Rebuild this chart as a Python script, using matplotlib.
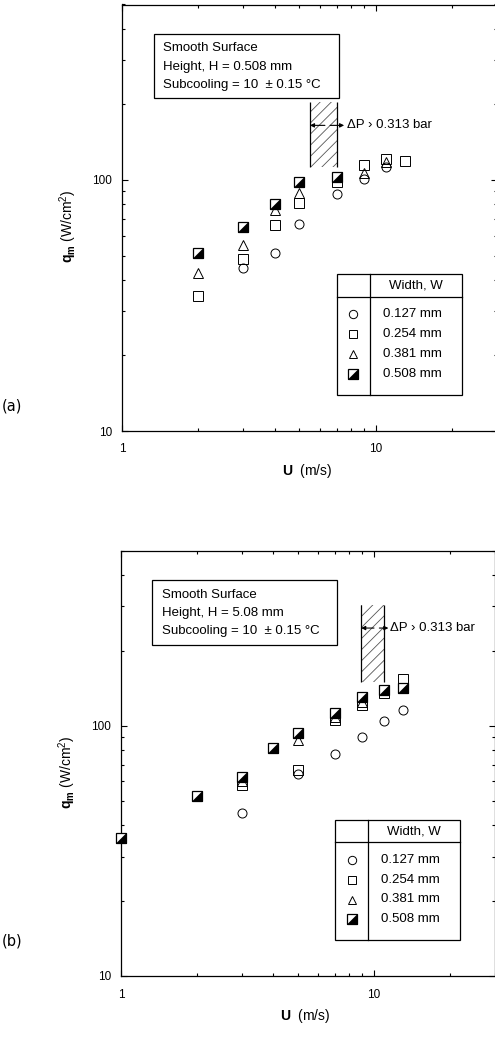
import matplotlib
matplotlib.use("Agg")
import matplotlib.pyplot as plt
from matplotlib.path import Path
from matplotlib.patches import Rectangle
from matplotlib.ticker import LogLocator, NullFormatter, FixedLocator, FixedFormatter

plt.rcParams['font.family'] = ['Liberation Sans', 'DejaVu Sans']
plt.rcParams['mathtext.fontset'] = 'custom'
plt.rcParams['mathtext.rm'] = 'Liberation Sans'
plt.rcParams['mathtext.bf'] = 'Liberation Sans:bold'
plt.rcParams['mathtext.it'] = 'Liberation Sans:italic'
plt.rcParams['hatch.linewidth'] = 0.6

# ---------------- data ----------------
widths = ["0.127 mm", "0.254 mm", "0.381 mm", "0.508 mm"]

# panel (a): H = 0.508 mm
a_circle_U = [3, 4, 5, 7, 9, 11]
a_circle_q = [44.7, 51, 66.6, 87.7, 100.6, 113]
a_square_U = [2, 3, 4, 5, 7, 9, 11, 13]
a_square_q = [34.6, 48.3, 66.2, 81.2, 98.5, 114.7, 121, 119.4]
a_tri_U = [2, 3, 4, 5, 9, 11]
a_tri_q = [42.7, 55, 75.9, 88.5, 106.3, 118]
a_half_U = [2, 3, 4, 5, 7]
a_half_q = [51, 64.8, 80.2, 98.5, 102.5]

# panel (b): H = 5.08 mm
b_circle_U = [3, 5, 7, 9, 11, 13]
b_circle_q = [45, 64, 77, 90.6, 104.7, 115.8]
b_square_U = [1, 3, 5, 7, 9, 11, 13]
b_square_q = [35.5, 58, 66.7, 105.7, 121, 135, 154]
b_tri_U = [3, 5, 7, 9]
b_tri_q = [60, 88, 108, 125]
b_half_U = [1, 2, 3, 4, 5, 7, 9, 11, 13]
b_half_q = [35.5, 52.5, 62.7, 81.4, 94, 112.4, 131, 139, 141.6]

titles = ["Height, H = 0.508 mm", "Height, H = 5.08 mm"]
panel_tags = ["(a)", "(b)"]
# choking region (U range, q range, arrow level)
hatch_U = [(5.5, 7.0), (8.9, 11.0)]
hatch_q = [(113, 205), (150, 305)]
arrow_q = [165, 246]
dp_text = "\u0394P \u203a 0.313 bar"

MS = 6.5
tri_path = Path([(-1, -1), (1, -1), (1, 1), (-1, -1)],
                [Path.MOVETO, Path.LINETO, Path.LINETO, Path.CLOSEPOLY])


def half_marker(ax, x, y, transform=None, z=5):
    kw = {} if transform is None else {'transform': transform}
    ax.plot(x, y, ls='none', marker='s', ms=MS, mfc='white', mec='black',
            mew=0.9, zorder=z, clip_on=False, **kw)
    ax.plot(x, y, ls='none', marker=tri_path, ms=MS, mfc='black', mec='black',
            mew=0.5, zorder=z + 0.1, clip_on=False, **kw)


def draw_panel(ax, data, title, hU, hq, aq, arrow_xs, text_x):
    (cU, cq), (sU, sq), (tU, tq), (hU_, hq_) = data
    ax.set_xscale('log')
    ax.set_yscale('log')
    ax.set_xlim(1, 30)
    ax.set_ylim(10, 500)

    ax.plot(cU, cq, ls='none', marker='o', ms=MS, mfc='none', mec='black', mew=0.7, zorder=3, clip_on=False)
    ax.plot(sU, sq, ls='none', marker='s', ms=MS, mfc='none', mec='black', mew=0.7, zorder=3.5, clip_on=False)
    ax.plot(tU, tq, ls='none', marker='^', ms=MS + 0.5, mfc='none', mec='black', mew=0.7, zorder=4)
    half_marker(ax, hU_, hq_)

    # hatched region
    r = Rectangle((hU[0], hq[0]), hU[1] - hU[0], hq[1] - hq[0], facecolor='none',
                  edgecolor='#555555', hatch='///', lw=0, zorder=2)
    ax.add_patch(r)
    ax.vlines(hU, hq[0], hq[1], color='black', lw=0.9, zorder=2.5)
    # arrows
    ax.annotate('', xy=(hU[0], aq), xytext=(arrow_xs[0], aq),
                arrowprops=dict(arrowstyle='-|>', lw=0.8, color='black',
                                mutation_scale=6, shrinkA=0, shrinkB=0))
    ax.annotate('', xy=(arrow_xs[2], aq), xytext=(arrow_xs[1], aq),
                arrowprops=dict(arrowstyle='-|>', lw=0.8, color='black',
                                mutation_scale=6, shrinkA=0, shrinkB=0))
    ax.text(text_x, aq, dp_text, fontsize=9.5, va='center', ha='left')

    # info box
    ax.add_patch(Rectangle((0.084, 0.78), 0.494, 0.151, transform=ax.transAxes,
                           facecolor='white', edgecolor='black', lw=0.9, zorder=6))
    lines = ["Smooth Surface", title, "Subcooling = 10  \u00b1 0.15 \u00b0C"]
    for i, s in enumerate(lines):
        ax.text(0.11, 0.897 - i * 0.043, s, transform=ax.transAxes, fontsize=9.5,
                va='center', ha='left', zorder=7)

    # legend table
    x0, x1, xd = 0.573, 0.906, 0.661
    y0, y1, yh = 0.084, 0.367, 0.315
    ax.add_patch(Rectangle((x0, y0), x1 - x0, y1 - y0, transform=ax.transAxes,
                           facecolor='white', edgecolor='black', lw=0.9, zorder=6))
    ax.plot([xd, xd], [y0, y1], transform=ax.transAxes, color='black', lw=0.9, zorder=7)
    ax.plot([x0, x1], [yh, yh], transform=ax.transAxes, color='black', lw=0.9, zorder=7)
    ax.text((xd + x1) / 2, 0.341, "Width, W", transform=ax.transAxes, fontsize=9.5,
            ha='center', va='center', zorder=7)
    rows = [0.274, 0.227, 0.18, 0.133]
    mx = (x0 + xd) / 2
    ax.plot([mx], [rows[0]], transform=ax.transAxes, ls='none', marker='o', ms=MS - 0.5,
            mfc='none', mec='black', mew=0.7, zorder=8)
    ax.plot([mx], [rows[1]], transform=ax.transAxes, ls='none', marker='s', ms=MS - 1,
            mfc='none', mec='black', mew=0.7, zorder=8)
    ax.plot([mx], [rows[2]], transform=ax.transAxes, ls='none', marker='^', ms=MS - 0.5,
            mfc='none', mec='black', mew=0.7, zorder=8)
    half_marker(ax, [mx], [rows[3]], transform=ax.transAxes, z=8)
    for yv, lab in zip(rows, widths):
        ax.text(0.695, yv, lab, transform=ax.transAxes, fontsize=9.5, ha='left',
                va='center', zorder=8)

    # ticks
    ax.tick_params(which='both', direction='in', top=True, right=True, labelsize=8.5,
                   width=0.8)
    ax.tick_params(which='major', length=4)
    ax.tick_params(which='minor', length=2)
    ax.tick_params(axis='x', pad=9)
    ax.tick_params(axis='y', pad=7)
    ax.xaxis.set_major_locator(FixedLocator([1, 10]))
    ax.xaxis.set_major_formatter(FixedFormatter(["1", "10"]))
    ax.yaxis.set_major_locator(FixedLocator([10, 100]))
    ax.yaxis.set_major_formatter(FixedFormatter(["10", "100"]))
    ax.xaxis.set_minor_locator(LogLocator(base=10, subs=range(2, 10)))
    ax.yaxis.set_minor_locator(LogLocator(base=10, subs=range(2, 10)))
    ax.xaxis.set_minor_formatter(NullFormatter())
    ax.yaxis.set_minor_formatter(NullFormatter())
    for sp in ax.spines.values():
        sp.set_linewidth(0.9)

    ax.set_xlabel(r"$\mathbf{U}$  (m/s)", fontsize=10)
    ax.xaxis.set_label_coords(0.493, -0.072)
    ax.set_ylabel(r"$\mathbf{q_m}$ (W/cm$^2$)", fontsize=10)
    ax.yaxis.set_label_coords(-0.115, 0.48)


fig = plt.figure(figsize=(4.95, 10.4), dpi=100)
ax_a = fig.add_axes([122 / 495, (1040 - 431) / 1040, 375 / 495, 426.5 / 1040])
ax_b = fig.add_axes([121 / 495, (1040 - 976) / 1040, 373.7 / 495, 425 / 1040])

draw_panel(ax_a,
           [(a_circle_U, a_circle_q), (a_square_U, a_square_q), (a_tri_U, a_tri_q), (a_half_U, a_half_q)],
           titles[0], hatch_U[0], hatch_q[0], arrow_q[0], (6.3, 6.6, 7.5), 7.7)
draw_panel(ax_b,
           [(b_circle_U, b_circle_q), (b_square_U, b_square_q), (b_tri_U, b_tri_q), (b_half_U, b_half_q)],
           titles[1], hatch_U[1], hatch_q[1], arrow_q[1], (10.0, 10.5, 11.4), 11.6)

fig.text(0.004, (1040 - 406) / 1040, panel_tags[0], fontsize=10.5, family='DejaVu Sans', va='center')
fig.text(0.004, (1040 - 941) / 1040, panel_tags[1], fontsize=10.5, family='DejaVu Sans', va='center')

fig.savefig("out.png", dpi=100)
